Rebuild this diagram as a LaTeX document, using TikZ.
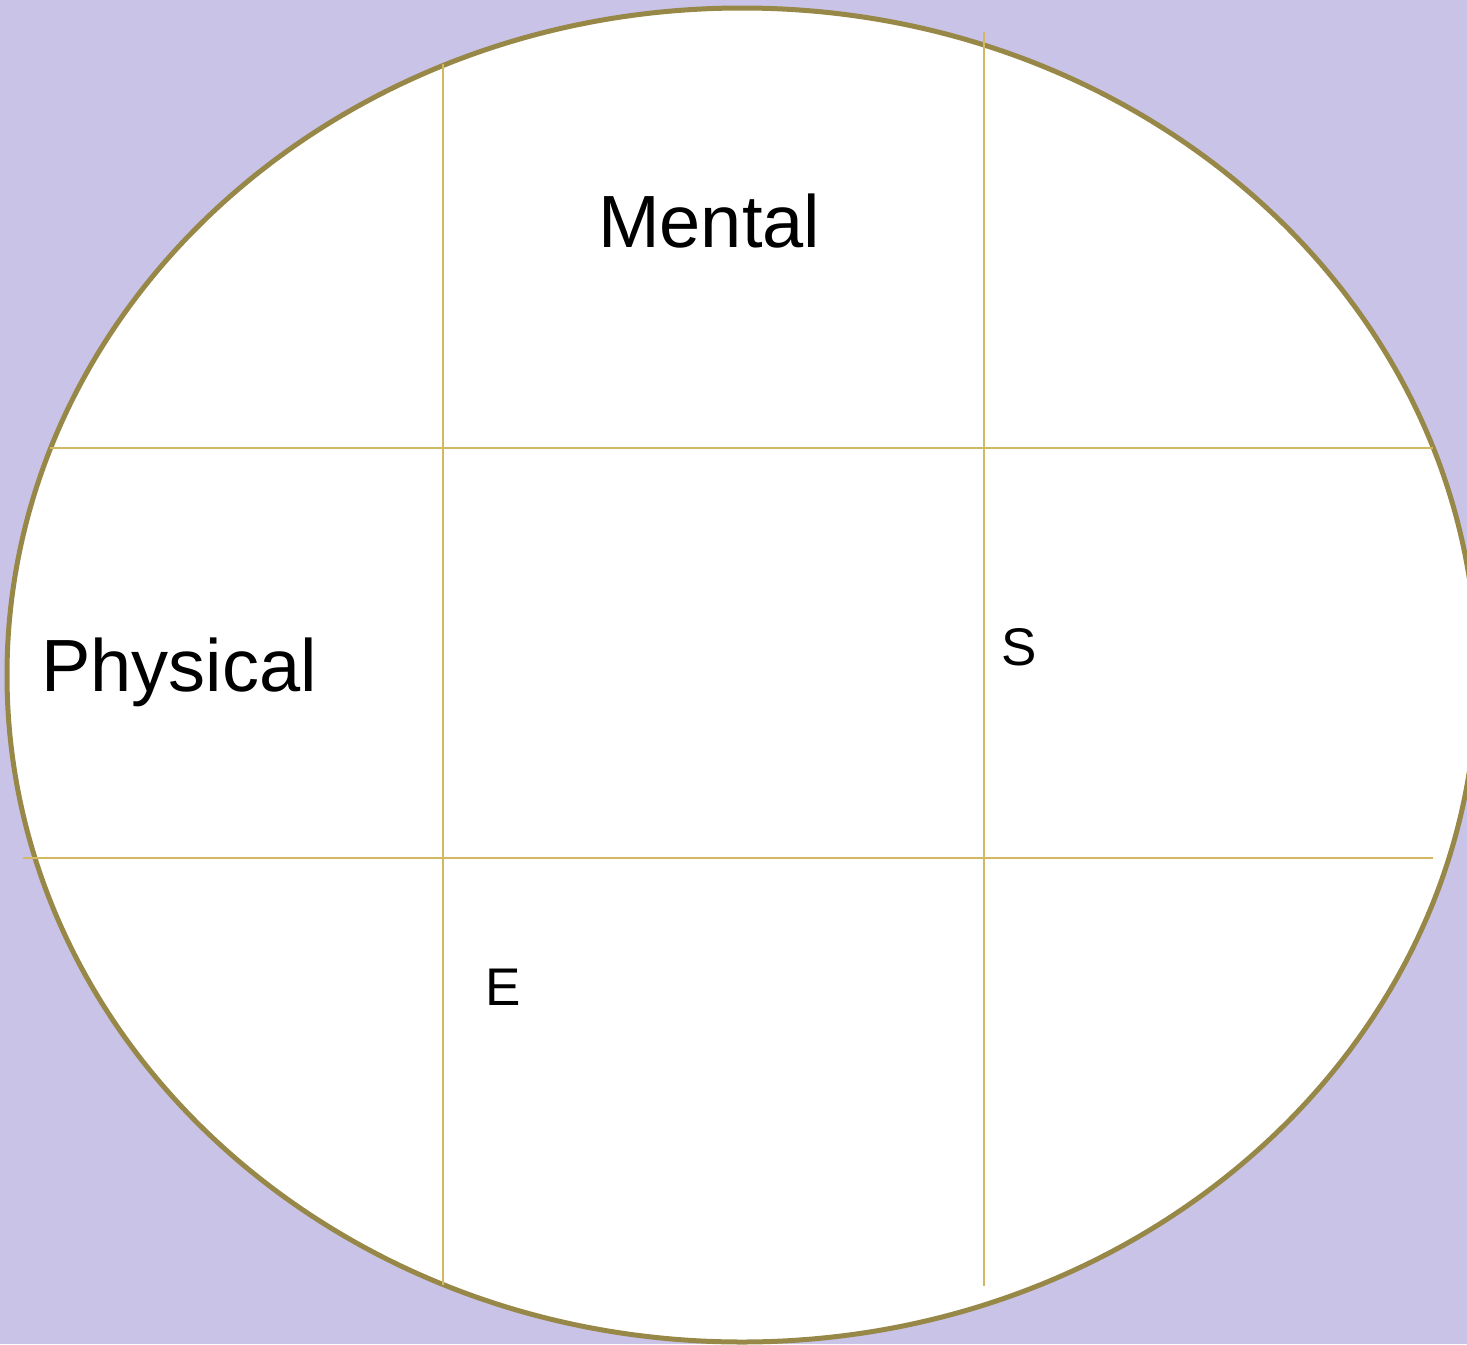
\documentclass[tikz,border=0pt]{standalone}
\usepackage{fontspec}
\setmainfont{Liberation Sans}
\usepackage{tikz}
\definecolor{lavender}{HTML}{C9C3E8}
\definecolor{rimolive}{HTML}{978848}
\definecolor{gridgold}{HTML}{D2B860}
\tikzset{
  gridline/.style={draw=gridgold, line width=2pt},
  biglabel/.style={anchor=base west, inner sep=0pt, font=\fontsize{74}{82}\selectfont},
  smalllabel/.style={anchor=base west, inner sep=0pt, font=\fontsize{53}{60}\selectfont},
}

\begin{document}
\begin{tikzpicture}[x=1pt, y=-1pt]
  % page and background
  \useasboundingbox (0,0) rectangle (1467,1344);
  \fill[lavender] (0,0) rectangle (1467,1344);
  % the oval
  \begin{scope}
    \clip (0,0) rectangle (1467,1344);
    \draw[fill=white, draw=rimolive, line width=5pt] (742,675) ellipse [x radius=735, y radius=667];
  \end{scope}
  % grid: two vertical, two horizontal
  \draw[gridline] (443,64) -- (443,1285);
  \draw[gridline] (984,32) -- (984,1286);
  \draw[gridline] (50,448) -- (1433,448);
  \draw[gridline] (23,858) -- (1433,858);
  % labels
  \node[biglabel] (mental) at (598,247) {Mental};
  \node[biglabel] (physical) at (41,691) {Physical};
  \node[smalllabel] (s) at (1001,665) {S};
  \node[smalllabel] (e) at (485,1005) {E};
\end{tikzpicture}
\end{document}
